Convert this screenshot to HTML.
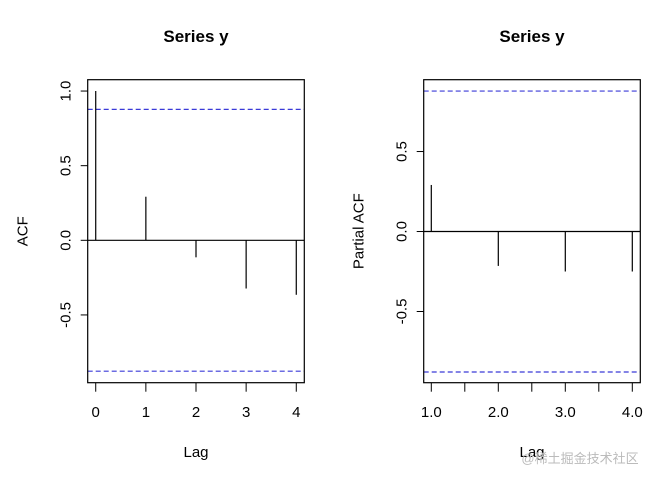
<!DOCTYPE html>
<html><head><meta charset="utf-8"><style>
body{margin:0;background:#fff}
svg text{font-family:"Liberation Sans","Noto Sans CJK SC",sans-serif}
</style></head><body>
<svg width="660" height="473" viewBox="0 0 660 473" xmlns="http://www.w3.org/2000/svg">
<g id="p1"></g>
<g id="p2"></g>
<text x="580" y="463" font-size="13" fill="#bbb" text-anchor="middle">@稀土掘金技术社区</text>
</svg>
<script>
const acfLags=[0,1,2,3,4];
const acfVals=[1.0,0.292,-0.114,-0.323,-0.365];
const acfCI=0.877;
const acfYTicks=[-0.5,0.0,0.5,1.0];
const acfYTickLabels=["-0.5","0.0","0.5","1.0"];
const acfXTicks=[0,1,2,3,4];
const acfXTickLabels=["0","1","2","3","4"];
const pacfLags=[1,2,3,4];
const pacfVals=[0.291,-0.215,-0.25,-0.25];
const pacfCI=0.878;
const pacfYTicks=[-0.5,0.0,0.5];
const pacfYTickLabels=["-0.5","0.0","0.5"];
const pacfXTicks=[1,1.5,2,2.5,3,3.5,4];
const pacfXTickLabels=["1.0","","2.0","","3.0","","4.0"];
const NS="http://www.w3.org/2000/svg";
function mk(p,t,a,txt){const e=document.createElementNS(NS,t);for(const k in a)e.setAttribute(k,a[k]);if(txt!==undefined)e.textContent=txt;p.appendChild(e);return e;}
function panel(g,o){
 const X=v=>o.x0+(v-o.xmin)/(o.xmax-o.xmin)*(o.x1-o.x0);
 const Y=v=>o.y1-(v-o.ymin)/(o.ymax-o.ymin)*(o.y1-o.y0);
 let e;
 e=mk(g,'text',{x:(o.x0+o.x1)/2,y:42,'font-size':17,'font-weight':'bold','text-anchor':'middle'},'Series  y');
 
 
 e=mk(g,'line',{x1:o.x0,x2:o.x1,y1:Y(0),y2:Y(0),stroke:'#000','stroke-width':1.2});
 
 
 [o.ci,-o.ci].forEach(c=>{e=mk(g,'line',{x1:o.x0,x2:o.x1,y1:Y(c),y2:Y(c),stroke:'#3b3bd8','stroke-width':1.2,'stroke-dasharray':'5,3'});
 
 });
 o.lags.forEach((l,i)=>{e=mk(g,'line',{x1:X(l),x2:X(l),y1:Y(0),y2:Y(o.vals[i]),stroke:'#000','stroke-width':1.2});
 
 });
 e=mk(g,'rect',{x:o.x0,y:o.y0,width:o.x1-o.x0,height:o.y1-o.y0,fill:'none',stroke:'#000','stroke-width':1.2});
 
 
 o.yt.forEach((v,i)=>{mk(g,'line',{x1:o.x0-7,x2:o.x0,y1:Y(v),y2:Y(v),stroke:'#000'});
 e=mk(g,'text',{x:0,y:0,'font-size':15,'text-anchor':'middle',transform:`translate(${o.x0-17},${Y(v)}) rotate(-90)`},o.ytl[i]);
 
 });
 o.xt.forEach((v,i)=>{mk(g,'line',{x1:X(v),x2:X(v),y1:o.y1,y2:o.y1+9,stroke:'#000'});
 e=mk(g,'text',{x:X(v),y:417,'font-size':15,'text-anchor':'middle'},o.xtl[i]);
 
 });
 e=mk(g,'text',{x:0,y:0,'font-size':15,'text-anchor':'middle',transform:`translate(${o.x0-60},${(o.y0+o.y1)/2}) rotate(-90)`},o.ylab);
 
 
 e=mk(g,'text',{x:(o.x0+o.x1)/2,y:457,'font-size':15,'text-anchor':'middle'},'Lag');
 
 
}
panel(document.getElementById('p1'),{x0:87.7,x1:304.3,y0:79.7,y1:382.7,xmin:-0.16,xmax:4.16,ymin:-0.954,ymax:1.076,lags:acfLags,vals:acfVals,ci:acfCI,yt:acfYTicks,ytl:acfYTickLabels,xt:acfXTicks,xtl:acfXTickLabels,ylab:'ACF'});
panel(document.getElementById('p2'),{x0:423.7,x1:640.3,y0:79.7,y1:382.7,xmin:0.8866,xmax:4.1194,ymin:-0.945,ymax:0.949,lags:pacfLags,vals:pacfVals,ci:pacfCI,yt:pacfYTicks,ytl:pacfYTickLabels,xt:pacfXTicks,xtl:pacfXTickLabels,ylab:'Partial ACF'});
</script>
</body></html>
